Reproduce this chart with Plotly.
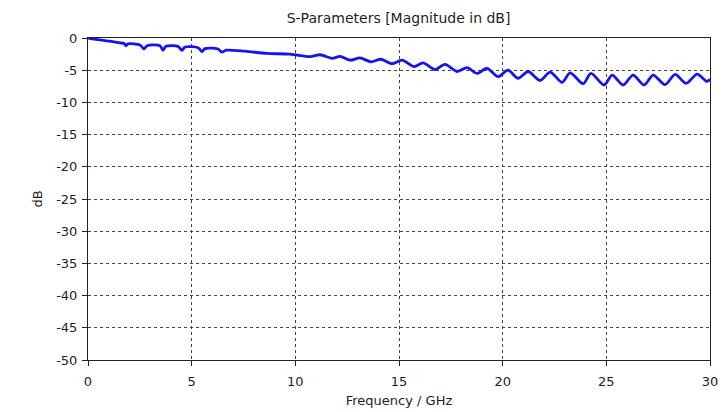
import plotly.graph_objects as go

freq_ghz = [0.0, 0.58, 1.06, 1.54, 1.74, 1.83, 1.93, 2.51, 2.70, 2.85, 3.47, 3.62, 3.76,
            4.34, 4.53, 4.68, 5.31, 5.50, 5.64, 6.27, 6.46, 6.66, 7.57, 8.63, 9.74,
            10.71, 11.19, 11.77, 12.16, 12.64, 13.12, 13.65, 14.13, 14.66, 15.15,
            15.73, 16.16, 16.74, 17.22, 17.80, 18.28, 18.77, 19.25, 19.78, 20.26,
            20.74, 21.23, 21.80, 22.29, 22.87, 23.25, 23.88, 24.26, 24.89, 25.28,
            25.81, 26.29, 26.82, 27.26, 27.83, 28.32, 28.85, 29.38, 29.85, 30.0]
s_db = [0.0, -0.3, -0.5, -0.75, -0.85, -1.2, -0.9, -1.1, -1.7, -1.2, -1.2, -1.9, -1.3,
        -1.3, -1.9, -1.4, -1.5, -2.1, -1.65, -1.7, -2.2, -1.9, -2.05, -2.4, -2.5,
        -2.9, -2.6, -3.15, -2.85, -3.45, -3.1, -3.7, -3.3, -4.0, -3.45,
        -4.45, -3.85, -4.9, -4.1, -5.2, -4.6, -5.5, -4.7, -6.0, -5.0,
        -6.25, -5.2, -6.6, -5.3, -6.9, -5.4, -7.1, -5.5, -7.3, -5.75,
        -7.3, -5.75, -7.3, -5.75, -7.25, -5.65, -7.05, -5.6, -6.75, -6.4]

x_ticks = [0, 5, 10, 15, 20, 25, 30]
y_ticks = [0, -5, -10, -15, -20, -25, -30, -35, -40, -45, -50]

font_family = "DejaVu Sans"
text_color = "#1e1e1e"

fig = go.Figure()
fig.add_trace(go.Scatter(x=freq_ghz, y=s_db, mode="lines",
                         line=dict(color="#1414f0", width=2.8, shape="spline", smoothing=0.8),
                         showlegend=False))

axis_common = dict(showline=True, linecolor="#222222", linewidth=1, mirror=True,
                   showgrid=True, gridcolor="#444444", griddash="dot", gridwidth=1,
                   ticks="outside", ticklen=5, tickcolor="#222222",
                   tickfont=dict(family=font_family, size=13, color=text_color),
                   zeroline=False, automargin=False)

fig.update_xaxes(range=[0, 30], tickvals=x_ticks, ticktext=[str(v) for v in x_ticks],
                 ticklabelstandoff=4,
                 title=dict(text="Frequency / GHz", font=dict(family=font_family, size=13, color=text_color),
                            standoff=8),
                 **axis_common)
fig.update_yaxes(range=[-50, 0], tickvals=y_ticks, ticktext=[str(v) for v in y_ticks],
                 ticklabelstandoff=2,
                 title=dict(text="dB", font=dict(family=font_family, size=13, color=text_color),
                            standoff=10),
                 **axis_common)

fig.update_layout(
    width=722, height=412,
    margin=dict(l=88, r=12, t=38, b=52),
    paper_bgcolor="white", plot_bgcolor="white",
    title=dict(text="S-Parameters [Magnitude in dB]", x=0.552, xanchor="center", y=0.955, yanchor="middle",
               font=dict(family=font_family, size=14, color=text_color)),
)

fig.write_html("out.html")
